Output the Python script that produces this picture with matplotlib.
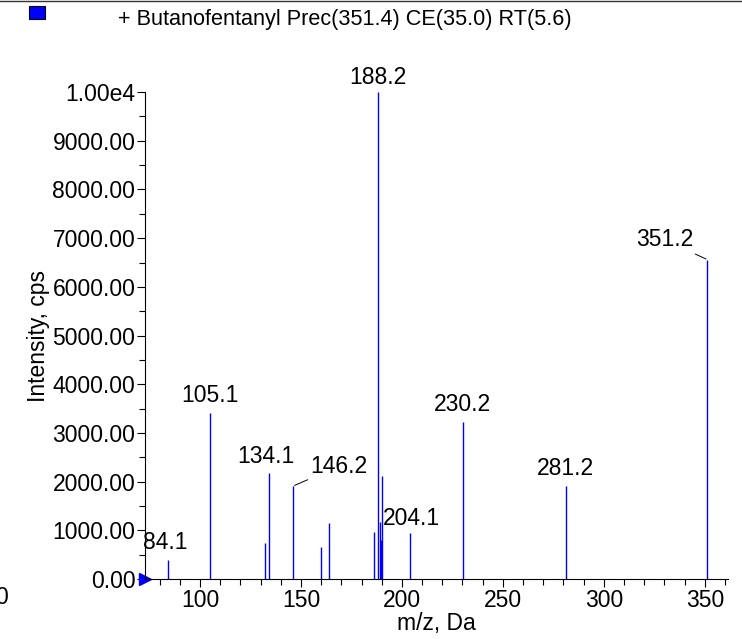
import matplotlib
matplotlib.use("Agg")
import matplotlib.pyplot as plt

# peak list
mz = [84.1, 105.1, 132.1, 134.1, 146.2, 160.1, 164.1, 186.1, 188.2, 189.1, 189.6, 190.1, 204.1, 230.2, 281.2, 351.2]
intensity = [390, 3410, 740, 2170, 1910, 660, 1150, 960, 10000, 1180, 800, 2110, 950, 3230, 1910, 6560]
labelled = [84.1, 105.1, 134.1, 146.2, 188.2, 204.1, 230.2, 281.2, 351.2]
title = "+ Butanofentanyl Prec(351.4) CE(35.0) RT(5.6)"
yticks = [0, 1000, 2000, 3000, 4000, 5000, 6000, 7000, 8000, 9000, 10000]
xticks = [100, 150, 200, 250, 300, 350]

plt.rcParams['font.family'] = ['Liberation Sans', 'DejaVu Sans']
fs = 16.5

fig = plt.figure(figsize=(7.42, 6.39), dpi=100)
ax = fig.add_axes([0.1954, 0.0939, 0.7856, 0.762])

ax.vlines(mz, 0, intensity, color='#0000ff', lw=1)
ax.set_xlim(72.8, 361.4)
ax.set_ylim(0, 10000)

# label offsets in points (dx, dy); leader line where the label is pushed aside
offsets = {84.1: (-2, 4), 105.1: (0, 4), 134.1: (-2, 4), 146.2: (33, 6),
           188.2: (0, 2), 204.1: (1, 2), 230.2: (0, 4), 281.2: (0, 4), 351.2: (-31, 6)}
for m in labelled:
    h = intensity[mz.index(m)]
    dx, dy = offsets[m]
    arrow = None
    if m in (146.2, 351.2):
        arrow = dict(arrowstyle='-', color='black', lw=0.7, shrinkA=0, shrinkB=1)
    ax.annotate("%.1f" % m, (m, h), xytext=(dx, dy), textcoords='offset points',
                ha='center', va='bottom', fontsize=fs, arrowprops=arrow,
                annotation_clip=False)

ax.spines['top'].set_visible(False)
ax.spines['right'].set_visible(False)
ax.spines['left'].set_linewidth(0.8)
ax.spines['bottom'].set_linewidth(0.8)

ax.set_yticks(yticks)
ax.set_yticklabels(["%.2f" % v for v in yticks[:-1]] + ["1.00e4"])
ax.set_yticks(range(500, 10000, 1000), minor=True)
ax.set_xticks(xticks)
ax.set_xticks([80, 90, 110, 120, 130, 140, 160, 170, 180, 190, 210, 220, 230, 240,
               260, 270, 280, 290, 310, 320, 330, 340, 360], minor=True)
ax.tick_params(axis='both', which='major', length=6, width=0.8, labelsize=fs, pad=1)
ax.tick_params(axis='both', which='minor', length=4, width=0.8)

ax.set_xlabel("m/z, Da", fontsize=fs, labelpad=0)
ax.set_ylabel("Intensity, cps", fontsize=fs, labelpad=2)

# origin marker
ax.plot([ax.get_xlim()[0]], [0], marker='>', color='#0000ff', ms=9, clip_on=False)

# header line, legend swatch and title
fig.add_artist(plt.Line2D([0, 1], [0.998, 0.998], color='#333333', lw=1))
fig.patches.append(plt.Rectangle((29 / 742, 1 - 19 / 639), 16 / 742, 13 / 639,
                                 transform=fig.transFigure, facecolor='#0000ff',
                                 edgecolor='black', lw=0.8))
fig.text(118 / 742, 1 - 20 / 639, title, fontsize=15.6, va='center', ha='left')
fig.text(-5 / 742, 1 - 598 / 639, "0", fontsize=fs, va='center', ha='left')

fig.savefig("out.png", dpi=100)
